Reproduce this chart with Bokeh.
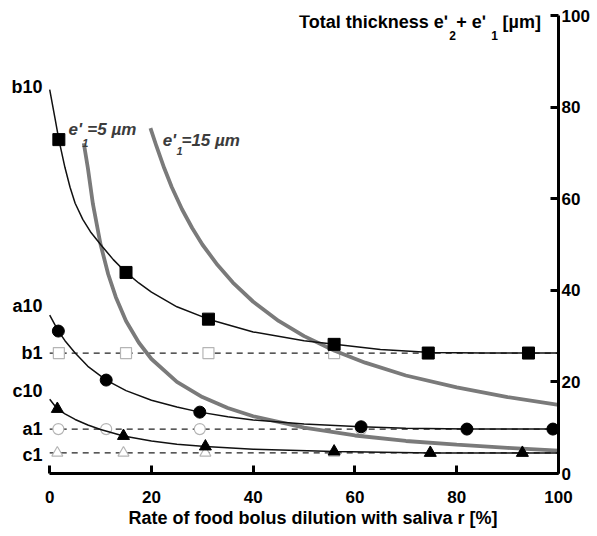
from bokeh.plotting import figure
from bokeh.models import Range1d, FixedTicker, Label, ColumnDataSource, Title
from bokeh.core.properties import value
from bokeh.embed import file_html
from bokeh.resources import INLINE

# ---------------- data ----------------
x_ticks = [0, 20, 40, 60, 80, 100]
y_ticks = [0, 20, 40, 60, 80, 100]

# measured points, condition "10" (filled markers)
b10_x = [1.8, 15.0, 31.2, 55.9, 74.4, 94.1]
b10_y = [72.9, 43.9, 33.7, 28.2, 26.3, 26.3]
a10_x = [1.7, 11.1, 29.5, 61.2, 82.0, 98.9]
a10_y = [31.1, 20.4, 13.4, 10.2, 9.7, 9.7]
c10_x = [1.5, 14.5, 30.6, 55.9, 74.8, 92.9]
c10_y = [14.1, 8.2, 5.9, 4.8, 4.5, 4.5]

# measured points, condition "1" (open markers)
b1_x = [1.8, 15.0, 31.2, 55.9, 74.4, 94.1]
b1_y = [26.3, 26.3, 26.3, 26.3, 26.3, 26.3]
a1_x = [1.7, 11.1, 29.5, 61.2, 82.0, 98.9]
a1_y = [9.7, 9.7, 9.7, 9.7, 9.7, 9.7]
c1_x = [1.5, 14.5, 30.6, 55.9, 74.8, 92.9]
c1_y = [4.5, 4.5, 4.5, 4.5, 4.5, 4.5]

# level lines for condition "1"
level_x = [0, 100]
b1_level = [26.3, 26.3]
a1_level = [9.7, 9.7]
c1_level = [4.5, 4.5]

# fitted curves (black)
b10_fit_x = [0, 1, 1.8, 3, 4, 5, 6.5, 8, 10, 12.5, 15, 17.5, 20, 25, 31.2, 40, 50, 56, 65, 75, 85, 100]
b10_fit_y = [83.8, 77.8, 72.9, 66.8, 62.5, 59.0, 55.5, 52.8, 50.0, 46.7, 43.9, 41.6, 39.6, 36.4, 33.7, 30.9, 29.0, 28.2, 27.1, 26.4, 26.3, 26.3]
a10_fit_x = [0, 1.7, 3, 5, 7.5, 11.1, 15, 20, 25, 29.5, 35, 40, 50, 61.2, 70, 82, 100]
a10_fit_y = [34.6, 31.1, 29.0, 26.3, 23.4, 20.4, 18.1, 16.0, 14.5, 13.4, 12.4, 11.7, 10.8, 10.2, 9.9, 9.7, 9.7]
c10_fit_x = [0, 1.5, 3, 5, 7.5, 10, 14.5, 20, 25, 30.6, 40, 55.9, 75, 100]
c10_fit_y = [16.2, 14.1, 13.0, 11.8, 10.6, 9.6, 8.2, 7.1, 6.4, 5.9, 5.3, 4.8, 4.5, 4.5]

# total thickness curves (grey) for e'1 = 5 um and e'1 = 15 um
e5_x = [6.7, 7.5, 8.5, 10, 11.5, 13, 15, 17.5, 20, 25, 30, 35, 40, 50, 60, 70, 80, 90, 100]
e5_y = [72.1, 66.7, 58.8, 50.0, 43.5, 38.5, 33.3, 28.6, 25.0, 20.0, 16.7, 14.3, 12.5, 10.0, 8.3, 7.1, 6.3, 5.6, 5.0]
e15_x = [19.8, 21, 22.5, 24, 26, 28, 30, 33, 36, 40, 45, 50, 56, 62, 70, 80, 90, 100]
e15_y = [75.4, 71.4, 66.7, 62.5, 57.7, 53.6, 50.0, 45.5, 41.7, 37.5, 33.3, 30.0, 26.8, 24.2, 21.4, 18.8, 16.7, 15.0]

row_labels = ["b10", "a10", "b1", "c10", "a1", "c1"]
row_label_y = [84.3, 36.6, 26.3, 18.0, 9.7, 4.0]

x_title = "Rate of food bolus dilution with saliva r [%]"

FONT = "Liberation Sans"

p = figure(width=597, height=536, x_range=Range1d(-9.67, 100), y_range=Range1d(0, 100),
           y_axis_location="right", output_backend="svg", toolbar_location=None,
           min_border_left=0, min_border_right=39, min_border_top=15, min_border_bottom=63)
p.outline_line_color = None
p.xgrid.visible = False
p.ygrid.visible = False
p.background_fill_color = "white"

for ax in (p.xaxis[0], p.yaxis[0]):
    ax.bounds = (0, 100)
    ax.axis_line_width = 3
    ax.axis_line_color = "black"
    ax.major_tick_line_width = 3
    ax.major_tick_in = 8
    ax.major_tick_out = 0
    ax.minor_tick_line_color = None
    ax.major_label_text_font = FONT
    ax.major_label_text_font_size = "17px"
    ax.major_label_text_font_style = "bold"
    ax.major_label_text_color = "black"
p.xaxis[0].ticker = FixedTicker(ticks=x_ticks)
p.yaxis[0].ticker = FixedTicker(ticks=y_ticks)
p.xaxis[0].major_label_standoff = 17
p.yaxis[0].major_label_standoff = 3

# x axis title placed under the axis, starting where the original text starts
p.add_layout(Title(text=x_title, align="left", offset=128, standoff=0,
                   text_font=FONT, text_font_size="18px", text_font_style="bold",
                   text_color="black"), "below")

# dashed level lines
for ly in (b1_level, a1_level, c1_level):
    p.line(level_x, ly, line_color="#222222", line_width=1.3, line_dash="6 5")

# open markers
p.scatter(b1_x, b1_y, marker="square", size=11, fill_color="white", line_color="#b5b5b5", line_width=1.2)
p.scatter(a1_x, a1_y, marker="circle", size=11, fill_color="white", line_color="#b5b5b5", line_width=1.2)
p.scatter(c1_x, c1_y, marker="triangle", size=11, fill_color="white", line_color="#b5b5b5", line_width=1.2)

# grey thickness curves
p.line(e5_x, e5_y, line_color="#7a7a7a", line_width=3.8)
p.line(e15_x, e15_y, line_color="#7a7a7a", line_width=3.8)

# black fitted curves
p.line(b10_fit_x, b10_fit_y, line_color="#111111", line_width=1.5)
p.line(a10_fit_x, a10_fit_y, line_color="#111111", line_width=1.5)
p.line(c10_fit_x, c10_fit_y, line_color="#111111", line_width=1.5)

# filled markers
p.scatter(b10_x, b10_y, marker="square", size=12, fill_color="black", line_color="black")
p.scatter(a10_x, a10_y, marker="circle", size=12, fill_color="black", line_color="black")
p.scatter(c10_x, c10_y, marker="triangle", size=12, fill_color="black", line_color="black")

# row labels on the left
src = ColumnDataSource(dict(x=[-1.4] * len(row_labels), y=row_label_y, t=row_labels))
p.text(x="x", y="y", text="t", source=src, text_font=value(FONT), text_font_size="18px",
       text_font_style="bold", text_align="right", text_baseline="middle", text_color="black")

def lab(x, y, t, size="18px", style="bold", color="black", align="left", baseline="alphabetic"):
    p.add_layout(Label(x=x, y=y, text=t, text_font=FONT, text_font_size=size,
                       text_font_style=style, text_color=color,
                       text_align=align, text_baseline=baseline))

# y axis title (top right)
lab(49.0, 98.6, "Total thickness e'")
lab(78.55, 95.6, "2", size="12px")
lab(79.9, 98.6, " + e'")
lab(86.8, 95.6, "1", size="12px")
lab(89.0, 98.6, "[\u00b5m]")

# curve labels
GC = "#3c3c3c"
lab(3.7, 75.2, "e'", size="17px", style="bold italic", color=GC)
lab(6.4, 72.2, "1", size="11px", style="bold italic", color=GC)
lab(7.4, 75.2, "=5 \u00b5m", size="17px", style="bold italic", color=GC)
lab(22.2, 72.7, "e'", size="17px", style="bold italic", color=GC)
lab(24.9, 70.5, "1", size="11px", style="bold italic", color=GC)
lab(25.9, 72.7, "=15 \u00b5m", size="17px", style="bold italic", color=GC)

open("out.html", "w").write(file_html(p, INLINE))
